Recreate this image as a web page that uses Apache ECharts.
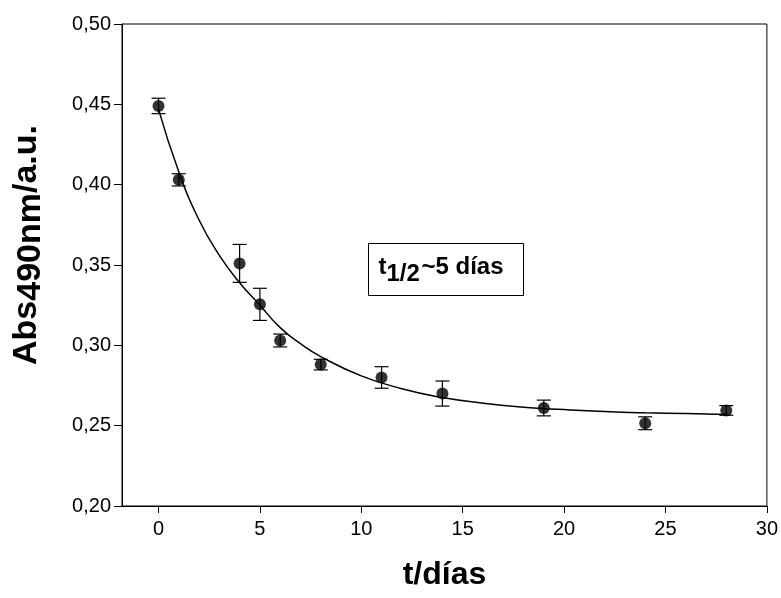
<!DOCTYPE html>
<html>
<head>
<meta charset="utf-8">
<script src="https://cdn.jsdelivr.net/npm/echarts@6/dist/echarts.min.js"></script>
<style>
  html, body { margin: 0; padding: 0; background: #fff; }
  #chart { width: 781px; height: 598px; }
</style>
</head>
<body>
<div id="chart"></div>
<script>
// Measured absorbance at 490 nm over storage time (mean ± error)
var days = [0, 1, 4, 5, 6, 8, 11, 14, 19, 24, 28];
var absorbance = [0.449, 0.403, 0.351, 0.3255, 0.303, 0.288, 0.280, 0.270, 0.261, 0.2515, 0.2595];
var errors = [0.0048, 0.0038, 0.0118, 0.0100, 0.0040, 0.0033, 0.0067, 0.0078, 0.0049, 0.0040, 0.0030];

// Decay fit curve sampled along the time axis
var fitDays = [0, 1, 2, 3, 4, 5, 6, 7, 8, 10, 12, 14, 16, 18, 20, 22, 24, 26, 28];
var fitAbs = [0.447, 0.408, 0.378, 0.356, 0.339, 0.325, 0.311, 0.301, 0.293, 0.281, 0.273, 0.2675, 0.264, 0.2615, 0.260, 0.2588, 0.258, 0.2575, 0.257];

// Axis ticks
var xTicks = [0, 5, 10, 15, 20, 25, 30];

var FONT = '"Liberation Sans", Arial, sans-serif';

var points = days.map(function (d, i) { return [d, absorbance[i]]; });
var bars = days.map(function (d, i) { return [d, absorbance[i] - errors[i], absorbance[i] + errors[i]]; });
var curve = fitDays.map(function (d, i) { return [d, fitAbs[i]]; });

var chart = echarts.init(document.getElementById('chart'), null, { renderer: 'canvas' });

chart.setOption({
  backgroundColor: '#fff',
  animation: false,
  grid: {
    left: 122, right: 12, top: 24, bottom: 92,
    show: true, borderColor: '#000', borderWidth: 1
  },
  xAxis: {
    type: 'value',
    min: -1.8,
    max: 30,
    name: 't/días',
    nameLocation: 'middle',
    nameGap: 53,
    nameTextStyle: { fontFamily: FONT, fontWeight: 'bold', fontSize: 32, color: '#000' },
    axisLine: { show: true, onZero: false, lineStyle: { color: '#000', width: 1 } },
    axisTick: { show: true, inside: false, length: 7, customValues: xTicks, lineStyle: { color: '#000' } },
    axisLabel: { customValues: xTicks, margin: 13, fontFamily: FONT, fontSize: 20, color: '#000' },
    splitLine: { show: false }
  },
  yAxis: {
    type: 'value',
    min: 0.20,
    max: 0.50,
    interval: 0.05,
    name: '{a|Abs}{s|490nm}{a|/a.u.}',
    nameLocation: 'middle',
    nameGap: 72,
    nameTextStyle: {
      padding: [0, 0, 0, 40],
      rich: {
        a: { fontFamily: FONT, fontWeight: 'bold', fontSize: 34, color: '#000', verticalAlign: 'top', lineHeight: 40 },
        s: { fontFamily: FONT, fontWeight: 'bold', fontSize: 34, color: '#000', verticalAlign: 'top', lineHeight: 40, padding: [4, 0, 0, 0] }
      }
    },
    axisLine: { show: true, onZero: false, lineStyle: { color: '#000', width: 1 } },
    axisTick: { show: true, inside: false, length: 8, lineStyle: { color: '#000' } },
    axisLabel: {
      margin: 11, fontFamily: FONT, fontSize: 20, color: '#000',
      formatter: function (v) { return v.toFixed(2).replace('.', ','); }
    },
    splitLine: { show: false }
  },
  series: [
    {
      type: 'line',
      data: curve,
      smooth: 0.5,
      showSymbol: false,
      symbol: 'none',
      lineStyle: { color: '#000', width: 1.5 },
      z: 2
    },
    {
      type: 'custom',
      data: bars,
      renderItem: function (params, api) {
        var x = api.value(0);
        var lo = api.coord([x, api.value(1)]);
        var hi = api.coord([x, api.value(2)]);
        var cap = 7;
        var style = { stroke: '#000', lineWidth: 1.2 };
        return {
          type: 'group',
          children: [
            { type: 'line', shape: { x1: lo[0], y1: lo[1], x2: hi[0], y2: hi[1] }, style: style },
            { type: 'line', shape: { x1: lo[0] - cap, y1: lo[1], x2: lo[0] + cap, y2: lo[1] }, style: style },
            { type: 'line', shape: { x1: hi[0] - cap, y1: hi[1], x2: hi[0] + cap, y2: hi[1] }, style: style }
          ]
        };
      },
      encode: { x: 0, y: [1, 2] },
      z: 3
    },
    {
      type: 'scatter',
      data: points,
      symbol: 'circle',
      symbolSize: 12,
      itemStyle: { color: '#000' },
      z: 4
    }
  ],
  graphic: [
    {
      type: 'group',
      left: 368, top: 243,
      children: [
        { type: 'rect', shape: { x: 0, y: 0, width: 155, height: 52 }, style: { fill: '#fff', stroke: '#000', lineWidth: 1 } },
        { type: 'text', x: 10, y: 24, style: { text: 't', font: 'bold 24px ' + FONT, fill: '#000', verticalAlign: 'middle' } },
        { type: 'text', x: 18, y: 31, style: { text: '1/2', font: 'bold 24px ' + FONT, fill: '#000', verticalAlign: 'middle' } },
        { type: 'text', x: 53, y: 24, style: { text: '~5 días', font: 'bold 24px ' + FONT, fill: '#000', verticalAlign: 'middle' } }
      ]
    }
  ]
});
</script>
</body>
</html>
